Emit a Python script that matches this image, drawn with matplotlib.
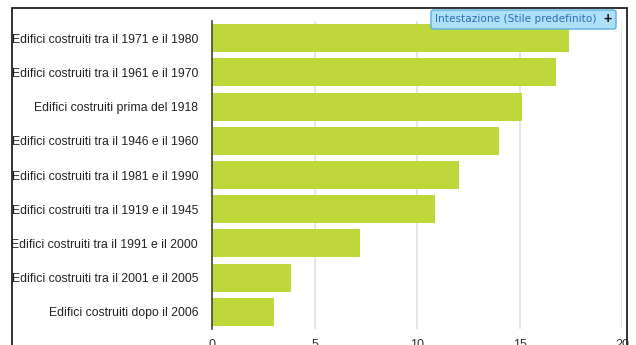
import matplotlib
matplotlib.use('Agg')
import matplotlib.pyplot as plt
from matplotlib.patches import FancyBboxPatch, Rectangle

W, H = 636, 345

categories = [
    'Edifici costruiti tra il 1971 e il 1980',
    'Edifici costruiti tra il 1961 e il 1970',
    'Edifici costruiti prima del 1918',
    'Edifici costruiti tra il 1946 e il 1960',
    'Edifici costruiti tra il 1981 e il 1990',
    'Edifici costruiti tra il 1919 e il 1945',
    'Edifici costruiti tra il 1991 e il 2000',
    'Edifici costruiti tra il 2001 e il 2005',
    'Edifici costruiti dopo il 2006',
]
values = [17.4, 16.8, 15.1, 14.0, 12.05, 10.9, 7.2, 3.85, 3.0]
xticks = [0, 5, 10, 15, 20]

plt.rcParams['font.family'] = ['Liberation Sans', 'DejaVu Sans']

fig = plt.figure(figsize=(W / 100, H / 100), dpi=100)
# axes: x 0 at px 212, 20 at px 622; top at y 21, bottom at y 329
ax = fig.add_axes([212 / W, 1 - 329 / H, (622 - 212) / W, (329 - 21) / H])

y = list(range(len(categories)))
ax.barh(y, values, height=0.82, color='#bfd73b', zorder=2)
ax.set_ylim(len(categories) - 0.5, -0.5)
ax.set_xlim(0, 20)
ax.set_xticks(xticks)
ax.set_xticklabels([str(t) for t in xticks], fontsize=9, color='#333333')
ax.set_yticks(y)
ax.set_yticklabels(categories, fontsize=8.8, color='#222222')
ax.tick_params(axis='x', length=0, pad=7)
ax.tick_params(axis='y', length=0, pad=10)
ax.grid(axis='x', color='#e2e2e2', linewidth=1.2, zorder=0)
for s in ['top', 'right', 'bottom']:
    ax.spines[s].set_visible(False)
ax.spines['left'].set_color('#444444')
ax.spines['left'].set_linewidth(1.2)
ax.spines['left'].set_zorder(3)

# outer frame
fig.patches.append(Rectangle((12 / W, -0.1), (627 - 12) / W, 1 - 8 / H + 0.1,
                             transform=fig.transFigure, fill=False,
                             edgecolor='#222222', linewidth=1.3))

# header tag
fig.patches.append(FancyBboxPatch((431 / W, 1 - 29 / H), (616 - 431) / W, 19 / H,
                                  boxstyle='round,pad=0,rounding_size=0.006',
                                  transform=fig.transFigure, facecolor='#aee0fa',
                                  edgecolor='#5aaee0', linewidth=1, zorder=5))
fig.text(435 / W, 1 - 19 / H, 'Intestazione (Stile predefinito)', fontsize=7.6,
         color='#2a6fb0', va='center', ha='left', zorder=6, family=['DejaVu Sans'])
fig.text(607 / W, 1 - 19 / H, '+', fontsize=10, fontweight='bold',
         color='#111111', va='center', ha='center', zorder=6)

fig.savefig('out.png', dpi=100)
